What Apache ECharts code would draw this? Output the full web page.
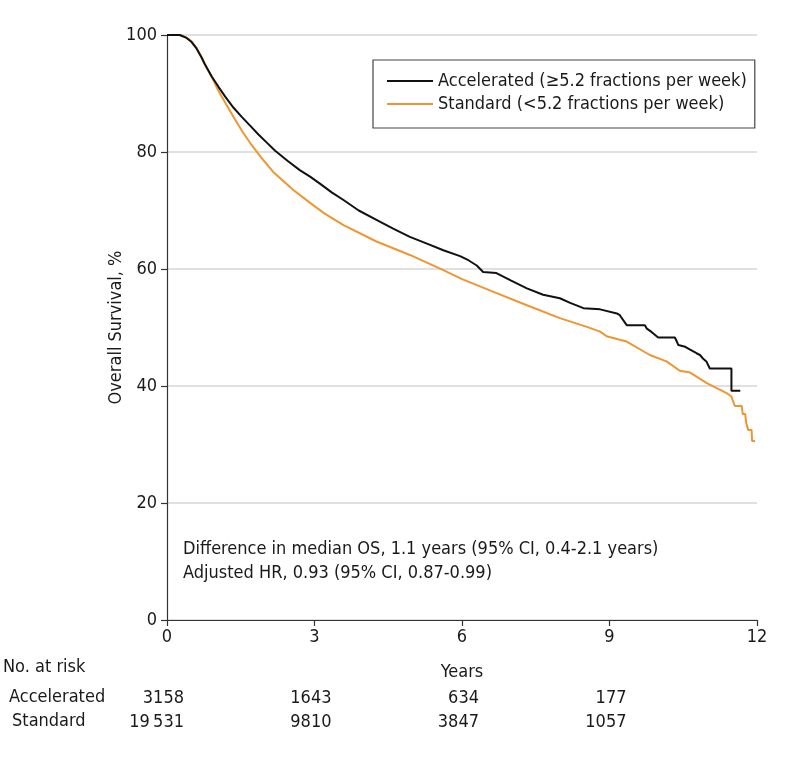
<!DOCTYPE html>
<html>
<head>
<meta charset="utf-8">
<script src="https://cdn.jsdelivr.net/npm/echarts@6/dist/echarts.min.js"></script>
<style>html,body{margin:0;padding:0;background:#fff}#c{width:794px;height:780px}</style>
</head>
<body>
<div id="c"></div>
<script>
// ---- data ----
var seriesNames = ['Accelerated (\u22655.2 fractions per week)', 'Standard (<5.2 fractions per week)'];
var groupNames = ['Accelerated', 'Standard'];
var xTicks = [0, 3, 6, 9, 12];
var riskTimes = [0, 3, 6, 9];
var riskAccelerated = [3158, 1643, 634, 177];
var riskStandard = [19531, 9810, 3847, 1057];
var accelerated = [
  [0,100],[0.26,100],[0.4,99.5],[0.5,98.8],[0.6,97.7],[0.7,96.2],[0.77,95.0],[0.91,92.9],[1.05,91.1],
  [1.18,89.5],[1.35,87.6],[1.52,86.0],[1.69,84.5],[1.86,83.0],[2.03,81.6],[2.2,80.2],[2.45,78.5],[2.7,76.9],[2.91,75.8],
  [3.11,74.6],[3.35,73.1],[3.59,71.8],[3.9,70.0],[4.26,68.4],[4.6,66.9],[4.94,65.5],[5.3,64.3],
  [5.62,63.2],[5.96,62.2],[6.13,61.5],[6.3,60.6],[6.43,59.5],[6.7,59.3],[7.0,58.0],[7.32,56.7],
  [7.65,55.6],[7.99,55.0],[8.2,54.2],[8.47,53.3],[8.81,53.1],[9.15,52.4],[9.21,52.1],[9.35,50.4],
  [9.72,50.4],[9.76,49.8],[9.86,49.2],[9.99,48.3],[10.33,48.3],[10.37,47.6],[10.40,47.0],[10.54,46.7],
  [10.64,46.2],[10.77,45.6],[10.84,45.3],[10.90,44.7],[10.97,44.2],[11.04,43.0],[11.48,43.0],
  [11.48,39.2],[11.66,39.2]
];
var standard = [
  [0,100],[0.26,100],[0.4,99.5],[0.5,98.9],[0.6,97.8],[0.7,96.3],[0.77,95.0],[0.91,92.8],[1.05,90.4],
  [1.2,88.2],[1.38,85.6],[1.55,83.3],[1.72,81.2],[1.93,78.9],[2.16,76.6],[2.57,73.5],[2.91,71.3],
  [3.2,69.5],[3.59,67.5],[4.26,64.7],[4.94,62.4],[5.62,59.8],[5.99,58.3],[6.64,56.1],[7.32,53.8],
  [7.99,51.6],[8.54,50.1],[8.81,49.3],[8.94,48.5],[9.21,47.9],[9.35,47.6],[9.82,45.3],[10.16,44.2],
  [10.43,42.6],[10.64,42.3],[10.98,40.5],[11.38,38.8],[11.48,38.2],[11.53,37.0],[11.55,36.6],
  [11.69,36.6],[11.71,35.2],[11.76,35.2],[11.78,33.7],[11.81,33.7],[11.82,32.5],[11.89,32.5],
  [11.90,30.6],[11.96,30.6]
];
var annotationLines = ['Difference in median OS, 1.1 years (95% CI, 0.4-2.1 years)', 'Adjusted HR, 0.93 (95% CI, 0.87-0.99)'];

// ---- chart ----
var FONT = '"Liberation Sans Narrow", "DejaVu Sans Condensed", sans-serif';
var FS = 18;
var TXT = '#1a1a1a';
var ORANGE = '#EF9630';
var chart = echarts.init(document.getElementById('c'), null, {renderer: 'canvas'});

function riskData(vals) { return riskTimes.map(function (t, i) { return [t, 0, vals[i]]; }); }
function fmtNum(v) { var s = String(v); return s.length > 4 ? s.slice(0, s.length - 3) + '\u2009' + s.slice(-3) : s; }

var riskLabel = {
  show: true, position: 'inside', align: 'right', offset: [17, 0],
  fontFamily: FONT, fontSize: FS, color: TXT, opacity: 1,
  formatter: function (p) { return fmtNum(p.value[2]); }
};

var option = {
  animation: false,
  backgroundColor: '#fff',
  textStyle: {fontFamily: FONT, fontSize: FS, color: TXT},
  grid: [
    {left: 167, top: 35, width: 590, height: 585},
    {left: 167, top: 686, width: 590, height: 24},
    {left: 167, top: 710, width: 590, height: 24}
  ],
  legend: {
    left: 373, top: 60, orient: 'vertical',
    borderColor: '#444', borderWidth: 1.2, padding: [12, 8, 15, 14],
    itemGap: 5, itemWidth: 46, itemHeight: 2,
    icon: 'rect',
    textStyle: {fontFamily: FONT, fontSize: FS, color: TXT},
    data: seriesNames
  },
  xAxis: [
    {
      gridIndex: 0, type: 'value', min: 0, max: 12, interval: 3,
      name: 'Years', nameLocation: 'middle', nameGap: 43,
      nameTextStyle: {fontFamily: FONT, fontSize: FS, color: TXT},
      axisLine: {show: true, lineStyle: {color: '#333', width: 1.2}},
      axisTick: {show: true, length: 6, lineStyle: {color: '#333', width: 1.2}},
      axisLabel: {fontFamily: FONT, fontSize: FS, color: TXT, margin: 8},
      splitLine: {show: false}
    },
    {gridIndex: 1, type: 'value', min: 0, max: 12, show: false},
    {gridIndex: 2, type: 'value', min: 0, max: 12, show: false}
  ],
  yAxis: [
    {
      gridIndex: 0, type: 'value', min: 0, max: 100, interval: 20,
      name: 'Overall Survival, %', nameLocation: 'middle', nameGap: 42, nameMoveOverlap: false,
      nameTextStyle: {fontFamily: FONT, fontSize: FS, color: TXT},
      axisLine: {show: true, lineStyle: {color: '#333', width: 1.2}},
      axisTick: {show: true, length: 6, lineStyle: {color: '#333', width: 1.2}},
      axisLabel: {fontFamily: FONT, fontSize: FS, color: TXT, margin: 10},
      splitLine: {show: true, lineStyle: {color: '#d6d6d6', width: 1.5}}
    },
    {gridIndex: 1, type: 'value', min: -1, max: 1, show: false},
    {gridIndex: 2, type: 'value', min: -1, max: 1, show: false}
  ],
  graphic: [
    {type: 'text', left: 183, top: 537, style: {text: annotationLines.join('\n'), font: FS + 'px ' + FONT, fill: TXT, lineHeight: 24}},
    {type: 'text', left: 3, top: 658, style: {text: 'No. at risk', font: FS + 'px ' + FONT, fill: TXT}},
    {type: 'text', left: 9, top: 688, style: {text: groupNames[0], font: FS + 'px ' + FONT, fill: TXT}},
    {type: 'text', left: 12, top: 712, style: {text: groupNames[1], font: FS + 'px ' + FONT, fill: TXT}}
  ],
  series: [
    {
      name: seriesNames[0], type: 'line', xAxisIndex: 0, yAxisIndex: 0, data: accelerated,
      showSymbol: false, symbol: 'none', smooth: false,
      lineStyle: {color: '#111', width: 2}, itemStyle: {color: '#111'}, z: 3
    },
    {
      name: seriesNames[1], type: 'line', xAxisIndex: 0, yAxisIndex: 0, data: standard,
      showSymbol: false, symbol: 'none', smooth: false,
      lineStyle: {color: ORANGE, width: 2}, itemStyle: {color: ORANGE}, z: 2
    },
    {
      type: 'scatter', xAxisIndex: 1, yAxisIndex: 1, data: riskData(riskAccelerated),
      symbolSize: 0, itemStyle: {color: '#fff', opacity: 1}, silent: true,
      label: riskLabel, emphasis: {disabled: true}
    },
    {
      type: 'scatter', xAxisIndex: 2, yAxisIndex: 2, data: riskData(riskStandard),
      symbolSize: 0, itemStyle: {color: '#fff', opacity: 1}, silent: true,
      label: riskLabel, emphasis: {disabled: true}
    }
  ]
};
chart.setOption(option);
</script>
</body>
</html>
